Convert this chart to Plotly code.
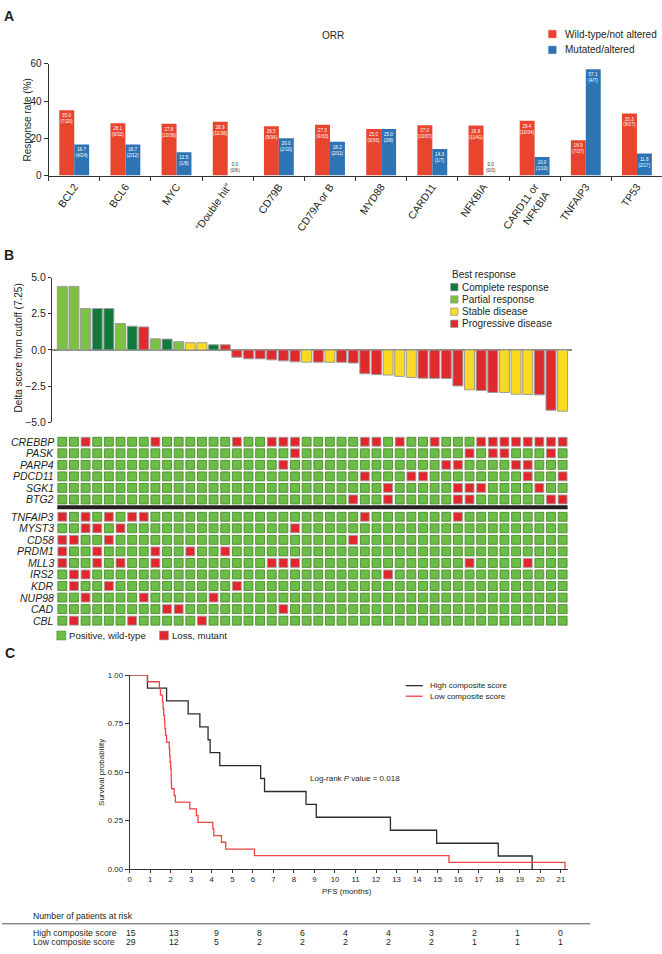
import plotly.graph_objects as go

W, H = 662, 954
FONT = "Liberation Sans, Arial, Helvetica, sans-serif"
TXT = "#231f20"


def fx(p):
    return p / W


def fy(p):
    return 1 - p / H


# ---------------- Panel A data ----------------
genes_a = ["BCL2", "BCL6", "MYC", "Double hit", "CD79B", "CD79A or B", "MYD88",
           "CARD11", "NFKBIA", "CARD11 or NFKBIA", "TNFAIP3", "TP53"]
tick_a = ["BCL2", "BCL6", "MYC", "\u201cDouble hit\u201d", "CD79B", "CD79A or B", "MYD88",
          "CARD11", "NFKBIA", "CARD11 or<br>NFKBIA", "TNFAIP3", "TP53"]
wt_rate = [35.0, 28.1, 27.8, 28.9, 26.5, 27.3, 25.0, 27.0, 26.8, 29.4, 18.9, 33.3]
wt_frac = ["7/20", "9/32", "10/36", "11/38", "9/34", "9/33", "9/36", "10/37", "11/41", "10/34", "7/37", "9/27"]
mut_rate = [16.7, 16.7, 12.5, 0.0, 20.0, 18.2, 25.0, 14.3, 0.0, 10.0, 57.1, 11.8]
mut_frac = ["4/24", "2/12", "1/8", "0/6", "2/10", "2/11", "2/8", "1/7", "0/3", "1/10", "4/7", "2/17"]
ticks_a = [0, 20, 40, 60]

# ---------------- Panel B data ----------------
delta_score = [4.39, 4.39, 2.86, 2.86, 2.86, 1.82, 1.64, 1.59, 0.77, 0.75, 0.57, 0.50, 0.50, 0.36, 0.36,
               -0.50, -0.61, -0.61, -0.68, -0.75, -0.82, -0.84, -0.84, -0.85, -0.85, -0.90, -1.64, -1.70,
               -1.73, -1.82, -1.90, -1.95, -1.96, -1.97, -2.48, -2.75, -2.80, -2.93, -2.93, -3.05, -3.07,
               -3.10, -4.16, -4.23]
best_response = ["PR", "PR", "PR", "CR", "CR", "PR", "CR", "PD", "PR", "CR", "PR", "SD", "SD", "CR", "PD",
                 "PD", "PD", "PD", "PD", "PD", "PD", "SD", "PD", "SD", "PD", "PD", "PD", "PD", "SD", "SD",
                 "SD", "PD", "PD", "PD", "PD", "SD", "PD", "PD", "SD", "SD", "SD", "PD", "PD", "SD"]
resp_codes = ["CR", "PR", "SD", "PD"]
resp_names = ["Complete response", "Partial response", "Stable disease", "Progressive disease"]
resp_colors = ["#0f7a3c", "#7cc142", "#fcd923", "#df2a2c"]
ticks_b = [-5, -2.5, 0, 2.5, 5]
ticktext_b = ["\u22125.0", "\u22122.5", "0.0", "2.5", "5.0"]

# ---------------- Heatmap data (1-based patient columns with loss/mutation) ----------------
top_genes = ["CREBBP", "PASK", "PARP4", "PDCD11", "SGK1", "BTG2"]
top_mut = [
    [3, 9, 16, 19, 20, 21, 27, 28, 30, 33, 37, 38, 39, 40, 41, 42, 43, 44],
    [21, 36, 38, 39, 43],
    [20, 34, 35, 40, 41],
    [27, 31, 32, 41, 44],
    [29, 35, 36, 37, 42],
    [26, 29, 35, 36, 43, 44],
]
bottom_genes = ["TNFAIP3", "MYST3", "CD58", "PRDM1", "MLL3", "IRS2", "KDR", "NUP98", "CAD", "CBL"]
bottom_mut = [
    [1, 3, 5, 7, 8, 27, 35],
    [3, 4, 6, 21],
    [1, 2, 5, 26],
    [1, 4, 9, 12, 15],
    [1, 4, 6, 9, 19, 20, 21, 36, 41],
    [2, 3, 29],
    [2, 5, 16],
    [3, 8, 14],
    [10, 11, 20],
    [2, 7, 13],
]
n_patients = 44

# ---------------- Panel C data ----------------
high_times = [0.87, 1.80, 2.85, 3.42, 3.82, 3.92, 4.39, 6.38, 6.57, 8.59, 9.09, 12.70, 14.95, 17.95, 19.60]
high_surv = [0.933, 0.867, 0.800, 0.733, 0.667, 0.600, 0.533, 0.467, 0.400, 0.333, 0.267, 0.200, 0.133,
             0.067, 0.0]
low_times = [0.87, 1.45, 1.50, 1.60, 1.63, 1.66, 1.70, 1.72, 1.75, 1.80, 1.93, 1.95, 1.97, 2.00, 2.02,
             2.03, 2.04, 2.17, 2.23, 2.93, 3.25, 3.33, 4.05, 4.10, 4.47, 4.68, 6.08, 15.55, 21.20]
low_surv = [0.966, 0.931, 0.897, 0.862, 0.828, 0.793, 0.759, 0.724, 0.690, 0.655, 0.621, 0.586, 0.552,
            0.517, 0.483, 0.448, 0.414, 0.379, 0.345, 0.310, 0.276, 0.241, 0.207, 0.172, 0.138, 0.103,
            0.069, 0.034, 0.0]
km_xticks = list(range(22))
km_yticks = [0, 0.25, 0.5, 0.75, 1.0]
km_yticktext = ["0.00", "0.25", "0.50", "0.75", "1.00"]
risk_high = [15, 13, 9, 8, 6, 4, 4, 3, 2, 1, 0]
risk_low = [29, 12, 5, 2, 2, 2, 2, 2, 1, 1, 1]

A_RED = "#e8442e"
A_BLUE = "#2e74b5"
HM_GREEN, HM_GREEN_EDGE = "#6cbd45", "#4c8a30"
HM_RED, HM_RED_EDGE = "#e3262b", "#9a9a9a"
KM_HIGH, KM_LOW = "#2b2b2b", "#ef4347"

fig = go.Figure()

# ---- Panel A bars ----
fig.add_trace(go.Bar(
    x=genes_a, y=wt_rate, offset=-0.292, width=0.292, marker_color=A_RED, marker_line_width=0,
    text=[f"{v:.1f}<br>({f})" for v, f in zip(wt_rate, wt_frac)],
    textposition=["inside" if v > 0 else "outside" for v in wt_rate],
    insidetextanchor="end", textangle=0, constraintext="none", cliponaxis=False,
    insidetextfont=dict(size=4.6, color="white", family=FONT),
    outsidetextfont=dict(size=4.6, color="#333", family=FONT),
    xaxis="x", yaxis="y", showlegend=False, hoverinfo="skip"))
fig.add_trace(go.Bar(
    x=genes_a, y=mut_rate, offset=0.0, width=0.292, marker_color=A_BLUE, marker_line_width=0,
    text=[f"{v:.1f}<br>({f})" for v, f in zip(mut_rate, mut_frac)],
    textposition=["inside" if v > 0 else "outside" for v in mut_rate],
    insidetextanchor="end", textangle=0, constraintext="none", cliponaxis=False,
    insidetextfont=dict(size=4.6, color="white", family=FONT),
    outsidetextfont=dict(size=4.6, color="#333", family=FONT),
    xaxis="x", yaxis="y", showlegend=False, hoverinfo="skip"))

# ---- Panel B waterfall ----
cmap = dict(zip(resp_codes, resp_colors))
fig.add_trace(go.Bar(
    x=list(range(len(delta_score))), y=delta_score, width=0.86,
    marker=dict(color=[cmap[r] for r in best_response], line=dict(color="#9c9c9c", width=1)),
    xaxis="x2", yaxis="y2", showlegend=False, hoverinfo="skip"))

# ---- Heatmap as square markers ----
row_y_top = list(range(len(top_genes)))
row_y_bot = [6.5 + i for i in range(len(bottom_genes))]
hx, hy, hc, hl = [], [], [], []
for rows, muts in ((row_y_top, top_mut), (row_y_bot, bottom_mut)):
    for ry, m in zip(rows, muts):
        for c in range(1, n_patients + 1):
            hx.append(c - 1)
            hy.append(ry)
            mutated = c in m
            hc.append(HM_RED if mutated else HM_GREEN)
            hl.append(HM_RED_EDGE if mutated else HM_GREEN_EDGE)
fig.add_trace(go.Scatter(
    x=hx, y=hy, mode="markers", cliponaxis=False,
    marker=dict(symbol="square", size=8.9, color=hc, line=dict(color=hl, width=0.9)),
    xaxis="x3", yaxis="y3", showlegend=False, hoverinfo="skip"))

# ---- KM curves ----
fig.add_trace(go.Scatter(
    x=[0] + high_times, y=[1.0] + high_surv, mode="lines", line=dict(shape="hv", color=KM_HIGH, width=1.3),
    cliponaxis=False, xaxis="x4", yaxis="y4", showlegend=False, hoverinfo="skip"))
fig.add_trace(go.Scatter(
    x=[0] + low_times, y=[1.0] + low_surv, mode="lines", line=dict(shape="hv", color=KM_LOW, width=1.3),
    cliponaxis=False, xaxis="x4", yaxis="y4", showlegend=False, hoverinfo="skip"))

axis_common = dict(showgrid=False, zeroline=False, linecolor="#333", linewidth=1, tickcolor="#333",
                   tickfont=dict(family=FONT, color=TXT))

# row positions in px for heatmap mapping
ROW0_PX, ROW_STEP = 441.3, 11.69
hm_top_val, hm_bot_val = -0.7, 16.2

fig.update_layout(
    width=W, height=H, margin=dict(l=0, r=0, t=0, b=0),
    paper_bgcolor="white", plot_bgcolor="white",
    font=dict(family=FONT, color=TXT),
    xaxis=dict(**axis_common, domain=[fx(46.8), 1.0], anchor="y", type="category",
               categoryorder="array", categoryarray=genes_a, range=[-0.5, 11.49],
               tickvals=genes_a, ticktext=tick_a, tickangle=-55, ticks="outside", ticklen=4,
               tickson="boundaries", showline=True),
    yaxis=dict(**axis_common, domain=[fy(171.7), fy(58.5)], anchor="x", range=[0, 60],
               tickvals=ticks_a, ticks="outside", ticklen=4, showline=True),
    xaxis2=dict(showgrid=False, zeroline=False, domain=[fx(50), fx(572)], anchor="y2",
                range=[-0.9, 43.83], showticklabels=False, showline=False, ticks=""),
    yaxis2=dict(**{k: v for k, v in axis_common.items() if k != "zeroline"}, domain=[fy(421.7), fy(275)],
                anchor="x2", range=[-5, 5], tickvals=ticks_b, ticktext=ticktext_b, ticks="outside",
                ticklen=3, showline=True, zeroline=True, zerolinecolor="#8a8a8a", zerolinewidth=1.2),
    xaxis3=dict(showgrid=False, zeroline=False, domain=[fx(50), fx(572)], anchor="y3",
                range=[-0.9, 43.83], visible=False),
    yaxis3=dict(showgrid=False, zeroline=False, anchor="x3",
                domain=[fy(ROW0_PX + hm_bot_val * ROW_STEP), fy(ROW0_PX + hm_top_val * ROW_STEP)],
                range=[hm_bot_val, hm_top_val], visible=False),
    xaxis4=dict(**axis_common, domain=[fx(128), fx(568)], anchor="y4", range=[0, 21.36],
                tickvals=km_xticks, ticks="outside", ticklen=3, showline=True),
    yaxis4=dict(**axis_common, domain=[fy(874), fy(677.7)], anchor="x4", range=[0, 1],
                tickvals=km_yticks, ticktext=km_yticktext, ticks="outside", ticklen=4, showline=True),
)
fig.layout.xaxis.tickfont.size = 10.5
fig.layout.yaxis.tickfont.size = 10
fig.layout.yaxis2.tickfont.size = 10.5
fig.layout.xaxis4.tickfont.size = 7.8
fig.layout.yaxis4.tickfont.size = 7.8

annotations = []
shapes = []


def ann(text, x, y, size, xanchor="left", yanchor="middle", angle=0, color=TXT, xref="paper", yref="paper"):
    annotations.append(dict(text=text, x=x, y=y, xref=xref, yref=yref, xanchor=xanchor, yanchor=yanchor,
                            textangle=angle, showarrow=False, font=dict(family=FONT, size=size, color=color),
                            borderpad=0))


def square(x0, y0, side, color, line="#777"):
    shapes.append(dict(type="rect", xref="paper", yref="paper", x0=fx(x0), x1=fx(x0 + side),
                       y0=fy(y0 + side), y1=fy(y0), fillcolor=color, line=dict(color=line, width=0.6)))


# panel letters
ann("<b>A</b>", fx(7), fy(10), 14, xanchor="center")
ann("<b>B</b>", fx(7), fy(252), 14, xanchor="center")
ann("<b>C</b>", fx(8), fy(655), 14, xanchor="center")

# Panel A texts
ann("ORR", fx(332), fy(30), 10, xanchor="center")
ann("Response rate (%)", fx(26), fy(115), 10, xanchor="center", angle=-90)
square(548.3, 24.7, 7.5, A_RED, line=A_RED)
ann("Wild-type/not altered", fx(564), fy(28.5), 10)
square(548.3, 40.7, 7.5, A_BLUE, line=A_BLUE)
ann("Mutated/altered", fx(564), fy(44.5), 10)

# Panel B texts
ann("Delta score from cutoff (7.25)", fx(17), fy(346), 10, xanchor="center", angle=-90)
ann("Best response", fx(450), fy(271.7), 10)
for i, (nm, col) in enumerate(zip(resp_names, resp_colors)):
    yy = [284.7, 297.2, 309.6, 321.8][i]
    square(450, yy - 3.7, 7.4, col, line="#888")
    ann(nm, fx(460.7), fy(yy), 10)

# heatmap row labels and divider
for g, ry in zip(top_genes + bottom_genes, row_y_top + row_y_bot):
    ann(f"<i>{g}</i>", fx(53.5), fy(ROW0_PX + ry * ROW_STEP), 10.5, xanchor="right")
shapes.append(dict(type="line", xref="x3", yref="y3", x0=-0.43, x1=n_patients - 1 + 0.43, y0=5.68, y1=5.68,
                   line=dict(color=TXT, width=4)))
square(55, 633, 9, HM_GREEN, line=HM_GREEN_EDGE)
ann("Positive, wild-type", fx(66.5), fy(637.5), 9.6)
square(158, 633, 9, HM_RED, line=HM_RED_EDGE)
ann("Loss, mutant", fx(169.5), fy(637.5), 9.6)

# Panel C texts
ann("Survival probability", fx(100), fy(776), 8, xanchor="center", angle=-90)
ann("PFS (months)", fx(346), fy(896.7), 8, xanchor="center")
ann("Log-rank <i>P</i> value = 0.018", fx(308), fy(782), 8)
shapes.append(dict(type="line", xref="paper", yref="paper", x0=fx(405), x1=fx(422), y0=fy(688.3), y1=fy(688.3),
                   line=dict(color=KM_HIGH, width=1.3)))
ann("High composite score", fx(428.3), fy(688.3), 8)
shapes.append(dict(type="line", xref="paper", yref="paper", x0=fx(405), x1=fx(422), y0=fy(699), y1=fy(699),
                   line=dict(color=KM_LOW, width=1.3)))
ann("Low composite score", fx(428.3), fy(699), 8)

# at-risk table
ann("Number of patients at risk", fx(30), fy(922), 8.7)
shapes.append(dict(type="line", xref="paper", yref="paper", x0=0, x1=fx(590), y0=fy(929.5), y1=fy(929.5),
                   line=dict(color="#555", width=1)))
ann("High composite score", fx(30), fy(938.5), 8.7)
ann("Low composite score", fx(30), fy(948), 8.7)
for i, (a, b) in enumerate(zip(risk_high, risk_low)):
    xc = 129 + 43.1 * i
    ann(str(a), fx(xc), fy(938.5), 8.7, xanchor="center")
    ann(str(b), fx(xc), fy(948), 8.7, xanchor="center")

fig.update_layout(annotations=annotations, shapes=shapes)
fig.write_html(
    "out.html",
    config={"displayModeBar": False, "staticPlot": True},
    post_script="document.body.style.margin='0';document.body.style.overflow='hidden';",
)
